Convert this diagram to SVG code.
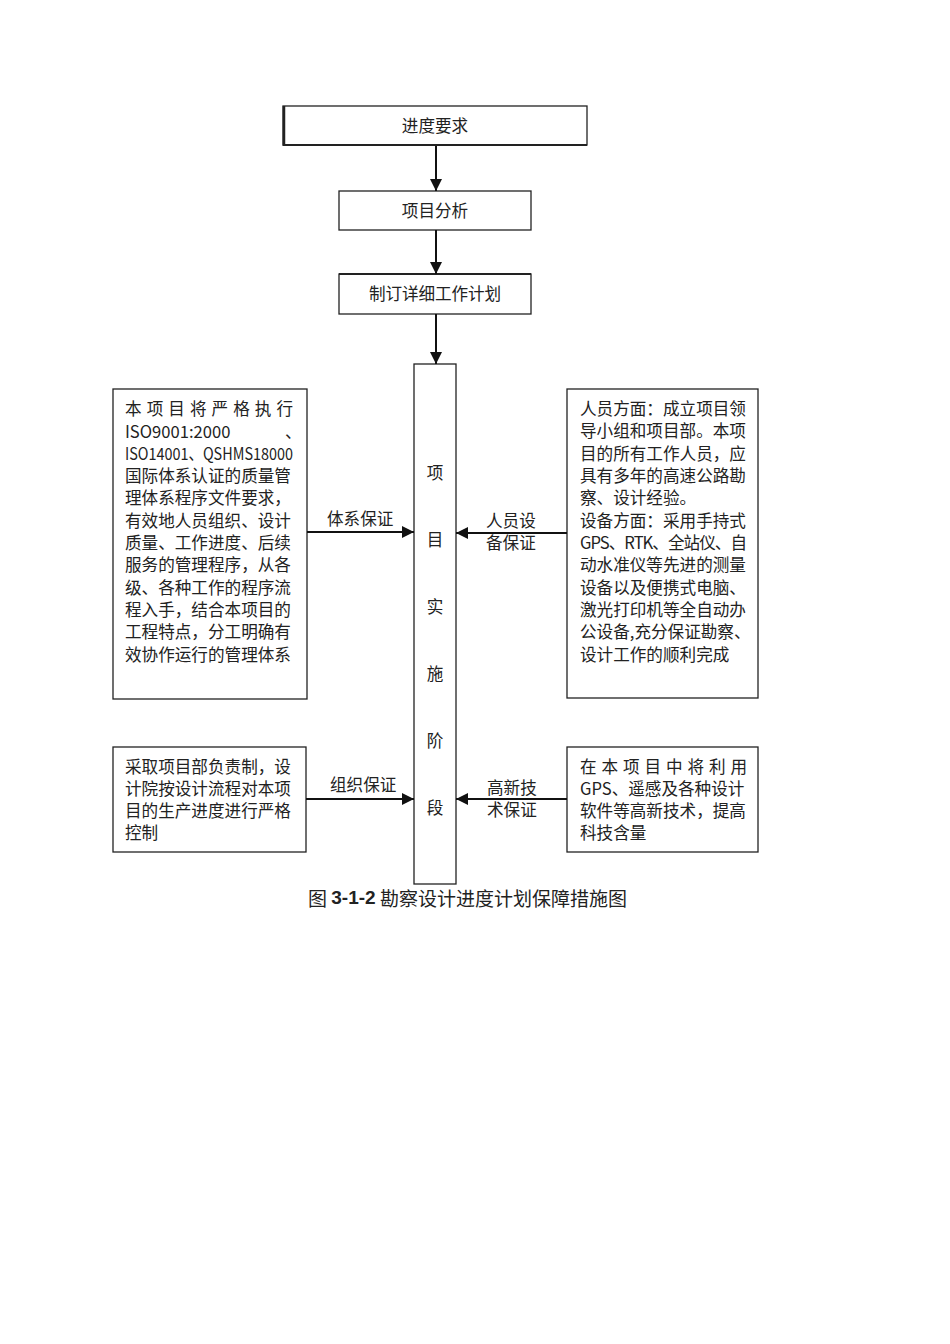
<svg xmlns="http://www.w3.org/2000/svg" width="950" height="1344" viewBox="0 0 950 1344">
<defs>
<marker id="ah" markerUnits="userSpaceOnUse" markerWidth="12" markerHeight="12" viewBox="0 0 12 12" refX="12" refY="6" orient="auto">
<path d="M0,0 L12,6 L0,12 z" fill="#111"/>
</marker>
<style>
.box{fill:#fff;stroke:#222;stroke-width:1.3}
.t{font-family:"Noto Sans CJK SC","Liberation Sans",sans-serif;font-size:16.6px;fill:#222;dominant-baseline:central}
.c{text-anchor:middle}
.ln{stroke:#111;stroke-width:2;fill:none;marker-end:url(#ah)}
</style>
</defs>
<rect width="950" height="1344" fill="#fff"/>
<g id="n1">
<rect class="box" x="283" y="106" width="304" height="39"/>
<line x1="284" y1="106" x2="284" y2="146" stroke="#222" stroke-width="2.5"/>
<line x1="283" y1="145" x2="587" y2="145" stroke="#222" stroke-width="2"/>
<text class="t c" x="435" y="125">进度要求</text>
</g>
<g id="n2">
<rect class="box" x="339" y="191" width="192" height="39"/>
<text class="t c" x="435" y="210">项目分析</text>
</g>
<g id="n3">
<rect class="box" x="339" y="274" width="192" height="40"/>
<line x1="339" y1="274" x2="531" y2="274" stroke="#222" stroke-width="2.2"/>
<text class="t c" x="435" y="293" textLength="132" lengthAdjust="spacing">制订详细工作计划</text>
</g>
<g id="n4">
<rect class="box" x="414" y="364" width="42" height="520"/>
<text class="t c" x="435" y="472">项</text>
<text class="t c" x="435" y="539">目</text>
<text class="t c" x="435" y="606">实</text>
<text class="t c" x="435" y="673">施</text>
<text class="t c" x="435" y="740">阶</text>
<text class="t c" x="435" y="807">段</text>
</g>
<g id="n5">
<rect class="box" x="113" y="389" width="194" height="310"/>
<text class="t" x="125" y="408" textLength="168" lengthAdjust="spacing">本项目将严格执行</text>
<text class="t" x="125" y="431">ISO9001:2000</text>
<text class="t" x="285" y="431">、</text>
<text class="t" x="125" y="453" textLength="168" lengthAdjust="spacingAndGlyphs">ISO14001、QSHMS18000</text>
<text class="t" x="125" y="475">国际体系认证的质量管</text>
<text class="t" x="125" y="497">理体系程序文件要求，</text>
<text class="t" x="125" y="520">有效地人员组织、设计</text>
<text class="t" x="125" y="542">质量、工作进度、后续</text>
<text class="t" x="125" y="564">服务的管理程序，从各</text>
<text class="t" x="125" y="587">级、各种工作的程序流</text>
<text class="t" x="125" y="609">程入手，结合本项目的</text>
<text class="t" x="125" y="631">工程特点，分工明确有</text>
<text class="t" x="125" y="654">效协作运行的管理体系</text>
</g>
<g id="n6">
<rect class="box" x="567" y="389" width="191" height="309"/>
<text class="t" x="580" y="408">人员方面：成立项目领</text>
<text class="t" x="580" y="430">导小组和项目部。本项</text>
<text class="t" x="580" y="453">目的所有工作人员，应</text>
<text class="t" x="580" y="475">具有多年的高速公路勘</text>
<text class="t" x="580" y="497">察、设计经验。</text>
<text class="t" x="580" y="520">设备方面：采用手持式</text>
<text class="t" x="580" y="542" textLength="167" lengthAdjust="spacing">GPS、RTK、全站仪、自</text>
<text class="t" x="580" y="564">动水准仪等先进的测量</text>
<text class="t" x="580" y="587">设备以及便携式电脑、</text>
<text class="t" x="580" y="609">激光打印机等全自动办</text>
<text class="t" x="580" y="631">公设备,充分保证勘察、</text>
<text class="t" x="580" y="654">设计工作的顺利完成</text>
</g>
<g id="n7">
<rect class="box" x="113" y="747" width="193" height="105"/>
<text class="t" x="125" y="766">采取项目部负责制，设</text>
<text class="t" x="125" y="788">计院按设计流程对本项</text>
<text class="t" x="125" y="810">目的生产进度进行严格</text>
<text class="t" x="125" y="832">控制</text>
</g>
<g id="n8">
<rect class="box" x="567" y="747" width="191" height="105"/>
<text class="t" x="580" y="766" textLength="167" lengthAdjust="spacing">在本项目中将利用</text>
<text class="t" x="580" y="788">GPS、遥感及各种设计</text>
<text class="t" x="580" y="810">软件等高新技术，提高</text>
<text class="t" x="580" y="832">科技含量</text>
</g>
<g id="connectors">
<line class="ln" x1="307" y1="532" x2="414" y2="532"/>
<line class="ln" x1="436" y1="146" x2="436" y2="191"/>
<line class="ln" x1="436" y1="230" x2="436" y2="274"/>
<line class="ln" x1="436" y1="314" x2="436" y2="364"/>
<line class="ln" x1="567" y1="533" x2="456" y2="533"/>
<line class="ln" x1="306" y1="799" x2="414" y2="799"/>
<line class="ln" x1="567" y1="799" x2="456" y2="799"/>
<text class="t" x="327" y="518">体系保证</text>
<text class="t" x="486" y="520">人员设</text>
<text class="t" x="486" y="542">备保证</text>
<text class="t" x="330" y="784">组织保证</text>
<text class="t" x="487" y="787">高新技</text>
<text class="t" x="487" y="809">术保证</text>
</g>
<text class="t" x="308" y="897" style="font-size:19px">图 <tspan font-weight="bold" font-family="'Liberation Sans',sans-serif">3-1-2</tspan> 勘察设计进度计划保障措施图</text>
</svg>
